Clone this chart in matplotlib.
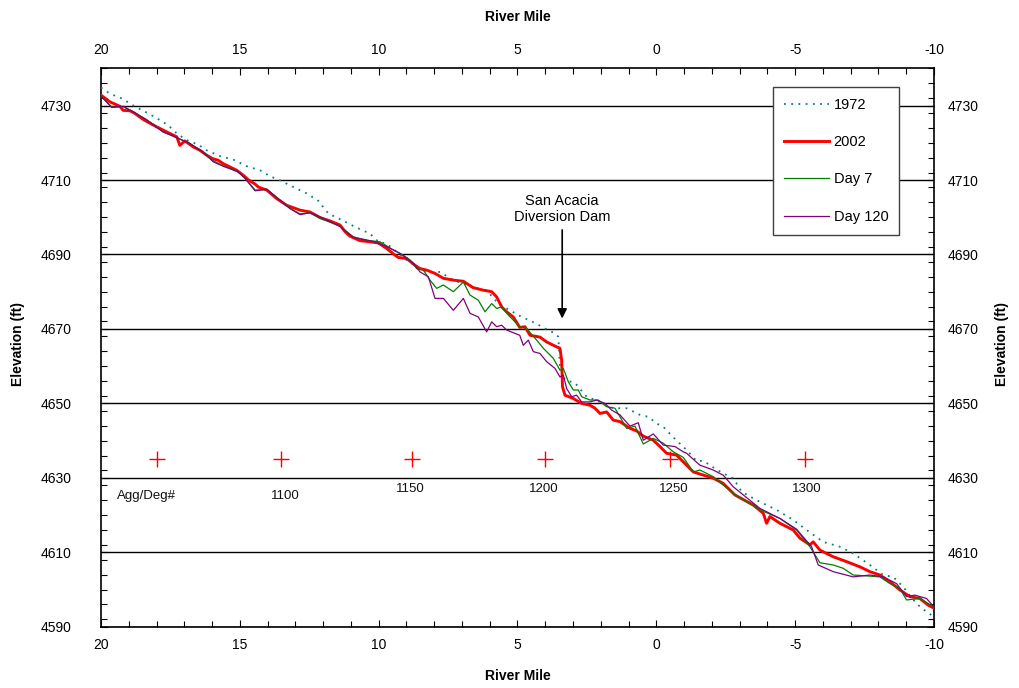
import numpy as np
import matplotlib
matplotlib.use("Agg")
import matplotlib.pyplot as plt
from matplotlib.ticker import MultipleLocator

plt.rcParams['font.family'] = ['Liberation Sans', 'DejaVu Sans']
plt.rcParams['axes.unicode_minus'] = False

# river mile / elevation profiles
rm_1972 = [20.0, 19.68, 19.25, 18.79, 18.3, 17.88, 17.58, 17.27, 16.91, 16.5, 16.2, 15.71, 15.24,
           14.75, 14.27, 13.91, 13.55, 13.07, 12.59, 12.17, 11.81, 11.21, 10.85, 10.31, 10.01, 9.71,
           9.35, 8.99, 8.63, 8.27, 7.79, 7.31, 6.95, 6.47, 6.11, 5.75, 5.39, 4.92, 4.43, 3.95, 3.65,
           3.53, 3.47, 3.29, 2.93, 2.51, 2.03, 1.55, 1.07, 0.59, 0.29, -0.01, -0.25, -0.73, -1.09,
           -1.45, -1.69, -2.05, -2.41, -2.77, -3.07, -3.61, -4.33, -4.93, -5.41, -6.01, -6.61, -7.09,
           -7.69, -8.17, -8.53, -8.89, -9.37, -9.73, -10.0]
el_1972 = [4734.8, 4733.2, 4731.9, 4729.8, 4727.9, 4726.1, 4724.7, 4722.5, 4720.7, 4719.5, 4718.0,
           4716.4, 4715.5, 4713.7, 4712.6, 4711.0, 4709.9, 4708.1, 4706.4, 4704.4, 4701.0, 4698.8,
           4697.4, 4695.6, 4693.4, 4692.9, 4690.7, 4688.5, 4686.7, 4685.3, 4685.3, 4683.1, 4682.2,
           4680.9, 4680.4, 4677.3, 4675.5, 4673.5, 4671.8, 4669.9, 4668.8, 4667.9, 4659.8, 4656.3,
           4655.5, 4651.8, 4650.4, 4648.7, 4648.7, 4646.9, 4646.4, 4644.6, 4643.7, 4640.0, 4637.5,
           4634.5, 4634.6, 4632.8, 4631.2, 4629.9, 4626.3, 4624.0, 4621.4, 4618.7, 4616.0, 4612.8,
           4611.5, 4609.7, 4606.6, 4603.9, 4603.4, 4600.7, 4596.2, 4594.0, 4592.7]

rm_2002 = [20.0, 19.68, 19.32, 19.2, 18.96, 18.78, 18.6, 18.42, 18.0, 17.52, 17.27, 17.16, 16.98,
           16.68, 16.44, 16.2, 16.0, 15.78, 15.6, 15.11, 14.88, 14.7, 14.45, 14.33, 14.03, 13.67,
           13.31, 12.83, 12.47, 12.11, 11.75, 11.39, 11.21, 11.03, 10.67, 10.31, 10.01, 9.71, 9.41,
           9.29, 8.99, 8.69, 8.51, 8.27, 7.97, 7.67, 7.31, 6.95, 6.6, 6.23, 5.93, 5.75, 5.57, 5.39,
           5.15, 4.92, 4.73, 4.55, 4.19, 3.95, 3.65, 3.47, 3.41, 3.38, 3.29, 2.99, 2.69, 2.39, 2.21,
           2.03, 1.79, 1.55, 1.31, 0.95, 0.71, 0.47, 0.11, -0.13, -0.37, -0.73, -1.33, -2.05, -2.41,
           -2.83, -3.49, -3.85, -3.97, -4.09, -4.45, -4.93, -5.17, -5.53, -5.65, -5.89, -6.37, -6.85,
           -7.33, -7.69, -8.05, -8.41, -8.77, -9.13, -9.49, -9.79, -10.0]
el_2002 = [4732.8, 4731.0, 4729.8, 4728.7, 4728.6, 4727.9, 4726.9, 4726.0, 4724.3, 4722.5, 4721.6,
           4719.3, 4720.5, 4718.9, 4718.0, 4716.7, 4715.8, 4715.3, 4714.4, 4712.6, 4711.3, 4710.1,
           4708.9, 4708.1, 4707.3, 4705.0, 4703.2, 4701.9, 4701.4, 4699.9, 4699.0, 4697.9, 4696.1,
           4694.9, 4693.7, 4693.4, 4693.1, 4691.6, 4689.8, 4689.2, 4688.9, 4687.1, 4686.2, 4685.8,
           4684.9, 4683.6, 4683.1, 4682.8, 4681.1, 4680.4, 4680.0, 4678.6, 4675.9, 4674.6, 4673.2,
           4670.4, 4670.6, 4668.3, 4667.8, 4666.5, 4665.4, 4664.8, 4661.6, 4654.5, 4652.2, 4651.3,
           4650.0, 4649.5, 4648.7, 4647.3, 4647.7, 4645.5, 4645.1, 4643.3, 4642.6, 4641.2, 4640.1,
           4638.4, 4636.6, 4636.1, 4631.6, 4629.9, 4628.5, 4625.4, 4622.7, 4620.5, 4617.8, 4619.6,
           4617.8, 4616.0, 4613.8, 4612.0, 4612.8, 4610.6, 4608.8, 4607.5, 4606.1, 4604.8, 4603.9,
           4602.1, 4599.9, 4598.1, 4597.6, 4595.8, 4595.0]

rm_day7 = [20.0, 19.61, 19.2, 18.84, 18.36, 17.76, 17.4, 16.8, 16.32, 15.96, 15.6, 15.06, 14.81,
           14.45, 14.03, 13.67, 13.19, 12.83, 12.47, 12.11, 11.39, 10.91, 10.43, 9.95, 9.47, 9.11,
           8.87, 8.63, 8.39, 8.15, 7.91, 7.67, 7.31, 6.95, 6.71, 6.41, 6.17, 5.93, 5.75, 5.57, 5.39,
           4.92, 4.67, 4.31, 4.07, 3.71, 3.47, 3.35, 3.17, 2.99, 2.81, 2.69, 2.39, 2.09, 1.79, 1.49,
           1.07, 0.77, 0.47, 0.11, -0.25, -0.61, -0.97, -1.33, -1.57, -2.05, -2.77, -3.73, -4.45,
           -5.05, -5.53, -5.89, -6.37, -6.73, -7.09, -7.69, -8.05, -8.41, -8.77, -9.01, -9.49, -10.0]
el_day7 = [4732.5, 4729.6, 4729.7, 4728.3, 4726.2, 4722.9, 4721.8, 4719.8, 4717.5, 4715.2, 4713.8,
           4712.3, 4710.5, 4707.3, 4707.5, 4705.3, 4702.4, 4700.9, 4701.2, 4699.7, 4697.6, 4694.7,
           4693.8, 4693.4, 4691.2, 4689.8, 4688.5, 4686.2, 4685.8, 4683.1, 4680.9, 4681.8, 4680.0,
           4682.6, 4679.1, 4677.7, 4674.6, 4676.8, 4675.5, 4675.9, 4674.2, 4670.6, 4670.1, 4667.0,
           4664.8, 4662.1, 4658.9, 4659.4, 4655.8, 4653.6, 4653.6, 4651.8, 4650.9, 4650.9, 4649.1,
           4648.7, 4643.3, 4643.9, 4639.1, 4640.6, 4639.3, 4637.0, 4635.5, 4631.6, 4632.1, 4630.3,
           4625.8, 4621.4, 4619.1, 4616.0, 4611.5, 4607.2, 4606.6, 4605.7, 4603.9, 4603.6, 4603.4,
           4601.6, 4600.3, 4597.2, 4597.6, 4595.3]

rm_day120 = [20.0, 19.61, 19.2, 18.84, 18.36, 17.76, 17.4, 16.8, 16.32, 15.96, 15.6, 15.06, 14.81,
             14.45, 14.03, 13.67, 13.19, 12.83, 12.47, 12.11, 11.39, 10.91, 10.31, 9.71, 9.23, 8.75,
             8.51, 8.21, 7.97, 7.67, 7.31, 6.95, 6.71, 6.41, 6.11, 5.93, 5.75, 5.57, 5.39, 4.92, 4.79,
             4.61, 4.43, 4.19, 3.95, 3.65, 3.47, 3.35, 3.23, 3.05, 2.87, 2.69, 2.39, 2.15, 1.85, 1.61,
             1.31, 0.95, 0.65, 0.47, 0.11, -0.25, -0.67, -0.97, -1.09, -1.57, -2.05, -2.41, -2.77,
             -3.73, -4.45, -5.05, -5.59, -5.83, -6.37, -7.09, -7.69, -8.17, -8.65, -9.01, -9.31,
             -9.73, -10.0]
el_day120 = [4732.5, 4729.5, 4729.8, 4728.3, 4726.2, 4722.9, 4721.8, 4719.8, 4717.5, 4714.9, 4713.7,
             4712.2, 4710.4, 4707.1, 4707.5, 4705.3, 4702.3, 4700.7, 4701.2, 4700.1, 4697.5, 4694.6,
             4693.7, 4692.1, 4690.3, 4687.6, 4685.3, 4684.0, 4678.2, 4678.2, 4675.0, 4678.2, 4674.2,
             4673.2, 4669.2, 4671.9, 4670.6, 4671.0, 4669.7, 4668.3, 4665.6, 4667.0, 4663.9, 4663.4,
             4661.2, 4659.4, 4657.1, 4657.6, 4654.0, 4651.8, 4652.2, 4650.4, 4650.4, 4650.9, 4650.0,
             4648.2, 4646.9, 4643.9, 4644.8, 4640.1, 4641.8, 4638.8, 4638.4, 4637.0, 4636.6, 4633.4,
             4632.1, 4630.7, 4627.6, 4621.8, 4619.1, 4616.2, 4611.5, 4606.6, 4604.8, 4603.4, 4603.9,
             4603.4, 4601.6, 4598.1, 4598.5, 4597.6, 4595.3]

# aggradation/degradation line markers
agg_rm = [18.0, 13.5, 8.8, 4.0, -0.5, -5.35]
agg_el = [4635, 4635, 4635, 4635, 4635, 4635]
agg_labels = ["Agg/Deg#", "1100", "1150", "1200", "1250", "1300"]

dam_rm = 3.39
y_ticks = np.arange(4590, 4731, 20)

fig = plt.figure(figsize=(10.19, 6.88), dpi=100)
ax = fig.add_axes([0.0991, 0.089, 0.8175, 0.8117])

ax.plot(rm_1972, el_1972, color='#008080', ls=(0, (1, 3)), lw=1.3, label='1972', zorder=3)
ax.plot(rm_2002, el_2002, color='#ff0000', lw=2.1, label='2002', zorder=4)
ax.plot(rm_day7, el_day7, color='#008000', lw=0.9, label='Day 7', zorder=5)
ax.plot(rm_day120, el_day120, color='#800080', lw=0.9, label='Day 120', zorder=5)

ax.plot(agg_rm, agg_el, ls='none', marker='+', color='#ff0000', mec='#ff0000', ms=11, mew=1.0,
        zorder=4)
label_x = [18.37, 13.37, 8.87, 4.07, -0.61, -5.41]
label_y = [4625.1, 4625.1, 4626.9, 4626.9, 4626.9, 4626.9]
for x, y, s in zip(label_x, label_y, agg_labels):
    ax.text(x, y, s, ha='center', va='center', fontsize=9.5, color='#111111')

ax.annotate('', xy=(dam_rm, 4672.8), xytext=(dam_rm, 4696.6),
            arrowprops=dict(arrowstyle='-|>', color='black', lw=1.2, mutation_scale=14,
                            shrinkA=0, shrinkB=0))
ax.text(dam_rm, 4698.3, 'San Acacia\nDiversion Dam', ha='center', va='bottom', fontsize=10.5,
        linespacing=1.15)

ax.set_xlim(20, -10)
ax.set_ylim(4590, 4740)
ax.xaxis.set_major_locator(MultipleLocator(5))
ax.xaxis.set_minor_locator(MultipleLocator(1))
ax.set_yticks(y_ticks)
ax.yaxis.set_minor_locator(MultipleLocator(4))
ax.yaxis.grid(True, which='major', color='black', lw=1.0)
ax.set_axisbelow(True)

ax.tick_params(which='both', direction='in', top=True, right=True,
               labeltop=True, labelright=False, labelsize=10, color='black')
ax.tick_params(which='major', length=5, width=0.8)
ax.tick_params(axis='x', which='major', pad=8)
ax.tick_params(axis='y', which='major', pad=21)
ax.tick_params(which='minor', length=4, width=0.8)
for s in ax.spines.values():
    s.set_linewidth(1.2)

# right-hand labels sit closer to the frame than the left ones
sec = ax.secondary_yaxis('right')
sec.set_yticks(y_ticks)
sec.tick_params(length=0, labelsize=10, pad=9.5)
sec.spines['right'].set_visible(False)

ax.set_xlabel('River Mile', fontsize=10, fontweight='bold', labelpad=12)
fig.text(ax.get_position().x0 + ax.get_position().width / 2, 1 - 17 / 688, 'River Mile',
         ha='center', va='center', fontsize=10, fontweight='bold')
fig.text(18 / 1019, 0.5, 'Elevation (ft)', rotation=90, ha='center', va='center',
         fontsize=10, fontweight='bold')
fig.text(1002 / 1019, 0.5, 'Elevation (ft)', rotation=90, ha='center', va='center',
         fontsize=10, fontweight='bold')

leg = ax.legend(loc='upper left', bbox_to_anchor=(0.8067, 0.967), borderaxespad=0,
                fontsize=10.5, handlelength=3.1, handletextpad=0.3, labelspacing=1.6,
                borderpad=0.75, fancybox=False, framealpha=1, edgecolor='#404040')
leg.get_frame().set_linewidth(1.0)
leg.set_zorder(10)

fig.savefig('out.png', dpi=100)
